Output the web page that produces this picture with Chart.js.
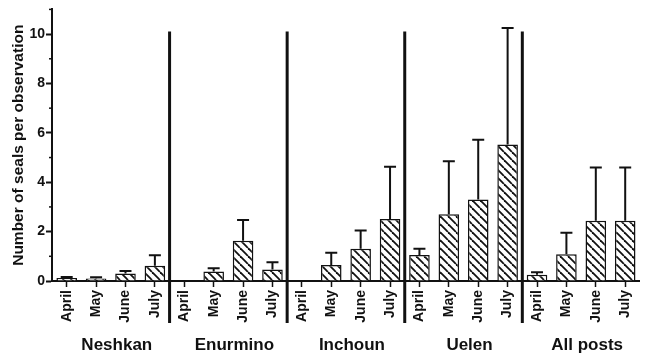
<!DOCTYPE html>
<html>
<head>
<meta charset="utf-8">
<script src="https://cdn.jsdelivr.net/npm/chart.js@4"></script>
<style>
  body { margin: 0; background: #fff; }
  canvas { display: block; }
</style>
</head>
<body>
<canvas id="sealsChart" width="645" height="360" style="width:645px;height:360px"></canvas>
<script>
    const posts = ['Neshkan', 'Enurmino', 'Inchoun', 'Uelen', 'All posts'];
    const months = ['April', 'May', 'June', 'July'];

    // mean number of seals per observation, one array per post (April..July)
    const neshkanMean = [0.12, 0.10, 0.30, 0.62];
    const enurminoMean = [0, 0.38, 1.63, 0.47];
    const inchounMean = [0, 0.65, 1.31, 2.51];
    const uelenMean = [1.05, 2.70, 3.30, 5.53];
    const allMean = [0.25, 1.08, 2.44, 2.44];

    // upper error bar (SD)
    const neshkanSd = [0.04, 0.05, 0.10, 0.42];
    const enurminoSd = [0, 0.14, 0.84, 0.29];
    const inchounSd = [0, 0.49, 0.74, 2.12];
    const uelenSd = [0.26, 2.15, 2.42, 4.72];
    const allSd = [0.10, 0.87, 2.16, 2.16];

    const yTicks = [0, 2, 4, 6, 8, 10];

    const means = [].concat(neshkanMean, enurminoMean, inchounMean, uelenMean, allMean);
    const sds = [].concat(neshkanSd, enurminoSd, inchounSd, uelenSd, allSd);
    const labels = [];
    posts.forEach(() => months.forEach(m => labels.push(m)));

    // hatch pattern "\\\\"
    function makeHatch() {
        const c = document.createElement('canvas');
        c.width = 8; c.height = 8;
        const g = c.getContext('2d');
        g.fillStyle = '#fff';
        g.fillRect(0, 0, 8, 8);
        g.strokeStyle = '#111';
        g.lineWidth = 1.8;
        [-8, 0, 8].forEach(off => {
            g.beginPath();
            g.moveTo(off, 0);
            g.lineTo(off + 8, 8);
            g.stroke();
        });
        return g.createPattern(c, 'repeat');
    }

    // error bars, minor y ticks, group separators and group names
    const extras = {
        id: 'extras',
        afterDatasetsDraw(chart) {
            const ctx = chart.ctx;
            const y = chart.scales.y;
            const meta = chart.getDatasetMeta(0);
            ctx.save();
            ctx.strokeStyle = '#111';
            ctx.lineWidth = 2;
            meta.data.forEach((bar, i) => {
                if (!sds[i]) return;
                const top = y.getPixelForValue(means[i] + sds[i]);
                ctx.beginPath();
                ctx.moveTo(bar.x, bar.y);
                ctx.lineTo(bar.x, top);
                ctx.moveTo(bar.x - 6, top);
                ctx.lineTo(bar.x + 6, top);
                ctx.stroke();
            });
            ctx.restore();
        },
        afterDraw(chart) {
            const ctx = chart.ctx;
            const x = chart.scales.x;
            const y = chart.scales.y;
            ctx.save();
            ctx.strokeStyle = '#111';

            // minor ticks on odd values
            ctx.lineWidth = 1.5;
            for (let v = 1; v <= 11; v += 2) {
                const py = y.getPixelForValue(v);
                ctx.beginPath();
                ctx.moveTo(y.right - 3, py);
                ctx.lineTo(y.right, py);
                ctx.stroke();
            }

            // separators between posts
            ctx.lineWidth = 3;
            for (let g = 1; g < posts.length; g++) {
                const px = (x.getPixelForValue(g * 4 - 1) + x.getPixelForValue(g * 4)) / 2;
                ctx.beginPath();
                ctx.moveTo(px, y.getPixelForValue(10.1));
                ctx.lineTo(px, 323);
                ctx.stroke();
            }

            // post names
            ctx.fillStyle = '#111';
            ctx.font = 'bold 17px "Liberation Sans", Arial, sans-serif';
            ctx.textAlign = 'center';
            ctx.textBaseline = 'middle';
            posts.forEach((p, g) => {
                const px = (x.getPixelForValue(g * 4) + x.getPixelForValue(g * 4 + 3)) / 2 + 6;
                ctx.fillText(p, px, 345);
            });
            ctx.restore();
        }
    };

    const ctx = document.getElementById('sealsChart').getContext('2d');
    new Chart(ctx, {
        type: 'bar',
        data: {
            labels: labels,
            datasets: [{
                data: means,
                backgroundColor: makeHatch(),
                borderColor: '#111',
                borderWidth: 1.5,
                barPercentage: 0.7,
                categoryPercentage: 1
            }]
        },
        options: {
            responsive: false,
            animation: false,
            layout: { padding: { top: 6, right: 0, left: 0, bottom: 0 } },
            plugins: {
                legend: { display: false },
                tooltip: { enabled: false }
            },
            scales: {
                x: {
                    afterFit: s => { s.height = 79; },
                    grid: {
                        offset: false,
                        drawOnChartArea: false,
                        tickLength: 6,
                        tickColor: '#111',
                        tickWidth: 1.5
                    },
                    border: { color: '#111', width: 2 },
                    ticks: {
                        autoSkip: false,
                        minRotation: 90,
                        maxRotation: 90,
                        padding: 3,
                        color: '#111',
                        font: { family: '"Liberation Sans", Arial, sans-serif', size: 14, weight: 'bold' }
                    }
                },
                y: {
                    min: 0,
                    max: 11,
                    afterFit: s => { s.width = 52; },
                    afterBuildTicks: s => { s.ticks = yTicks.map(v => ({ value: v })); },
                    grid: {
                        drawOnChartArea: false,
                        tickLength: 6,
                        tickColor: '#111',
                        tickWidth: 2
                    },
                    border: { color: '#111', width: 2 },
                    ticks: {
                        padding: 1,
                        color: '#111',
                        font: { family: '"Liberation Sans", Arial, sans-serif', size: 14, weight: 'bold' }
                    },
                    title: {
                        display: true,
                        text: 'Number of seals per observation',
                        color: '#111',
                        padding: { top: 9, bottom: 0 },
                        font: { family: '"Liberation Sans", Arial, sans-serif', size: 15.5, weight: 'bold' }
                    }
                }
            }
        },
        plugins: [extras]
    });
</script>
</body>
</html>
